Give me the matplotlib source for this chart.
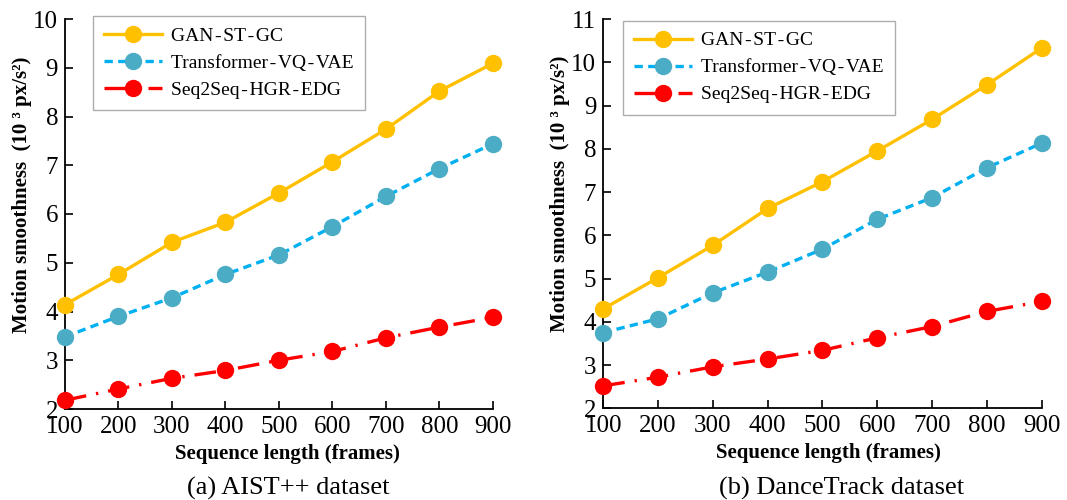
import matplotlib.pyplot as plt
import numpy as np

plt.rcParams['font.family'] = ['Liberation Serif', 'DejaVu Serif']

# sequence lengths (frames)
frames = [100, 200, 300, 400, 500, 600, 700, 800, 900]
methods = ['GAN\u200a-\u200aST\u200a-\u200aGC',
           'Transformer\u200a-\u200aVQ\u200a-\u200aVAE',
           'Seq2Seq\u200a-\u200aHGR\u200a-\u200aEDG']

# AIST++ dataset
aist_gan = [4.14, 4.76, 5.42, 5.83, 6.43, 7.07, 7.74, 8.52, 9.09]
aist_vqvae = [3.48, 3.90, 4.28, 4.76, 5.16, 5.74, 6.36, 6.93, 7.44]
aist_s2s = [2.18, 2.41, 2.63, 2.79, 3.00, 3.18, 3.46, 3.68, 3.88]

# DanceTrack dataset
dance_gan = [4.30, 5.02, 5.77, 6.62, 7.24, 7.95, 8.68, 9.48, 10.33]
dance_vqvae = [3.75, 4.07, 4.67, 5.15, 5.68, 6.37, 6.87, 7.56, 8.13]
dance_s2s = [2.52, 2.72, 2.96, 3.14, 3.34, 3.63, 3.89, 4.24, 4.47]

line_cols = ['#FFC000', '#00B0F0', '#FF0000']
face_cols = ['#FFC000', '#4BACC6', '#FF0000']
styles = ['-', (0, (2.5, 1.6)), (0, (6.5, 3, 0.7, 3))]

fig = plt.figure(figsize=(10.67, 5), dpi=100)
ax1 = fig.add_axes([0.0609, 0.182, 0.401, 0.780])
ax2 = fig.add_axes([0.5654, 0.1834, 0.4109, 0.7786])


def draw(ax, series, ylim, leg_anchor, caption, cap_x, ylab_x, xlab_x):
    for vals, lc, fc, ls, name in zip(series, line_cols, face_cols, styles, methods):
        ax.plot(frames, vals, color=lc, linestyle=ls, lw=2.4, marker='o',
                markersize=12.5, markerfacecolor=fc, markeredgewidth=0,
                label=name, clip_on=False, zorder=3)
    ax.set_xlim(100, 900)
    ax.set_ylim(*ylim)
    ax.set_xticks(frames)
    ax.set_yticks(range(ylim[0], ylim[1] + 1))
    ax.tick_params(direction='in', length=6, width=1.2, labelsize=18, pad=5)
    for s in ['top', 'right']:
        ax.spines[s].set_visible(False)
    for s in ['left', 'bottom']:
        ax.spines[s].set_linewidth(1.3)
    ax.set_xlabel('Sequence length (frames)', fontsize=15, fontweight='bold', labelpad=4)
    ax.xaxis.label.set_x(xlab_x)
    leg = ax.legend(loc='upper left', bbox_to_anchor=leg_anchor, fontsize=14,
                    handlelength=3.0, numpoints=1, borderaxespad=0,
                    fancybox=False, edgecolor='#999999', labelspacing=0.48,
                    borderpad=0.58, handletextpad=0.45)
    leg.get_frame().set_linewidth(1.0)
    pos = ax.get_position()
    fig.text(ylab_x, pos.y0 + pos.height * 0.55, 'Motion smoothness  (10 ³ px/s²)',
             rotation=90, ha='center', va='center', fontsize=15, fontweight='bold')
    fig.text(cap_x, 0.024, caption, ha='center', va='center', fontsize=19)


draw(ax1, [aist_gan, aist_vqvae, aist_s2s], (2, 10), (0.065, 1.008),
     '(a) AIST++ dataset', 288 / 1067, 22 / 1067, 0.519)
draw(ax2, [dance_gan, dance_vqvae, dance_s2s], (2, 11), (0.044, 0.996),
     '(b) DanceTrack dataset', 842 / 1067, 560 / 1067, 0.514)

fig.savefig('out.png', dpi=100)
